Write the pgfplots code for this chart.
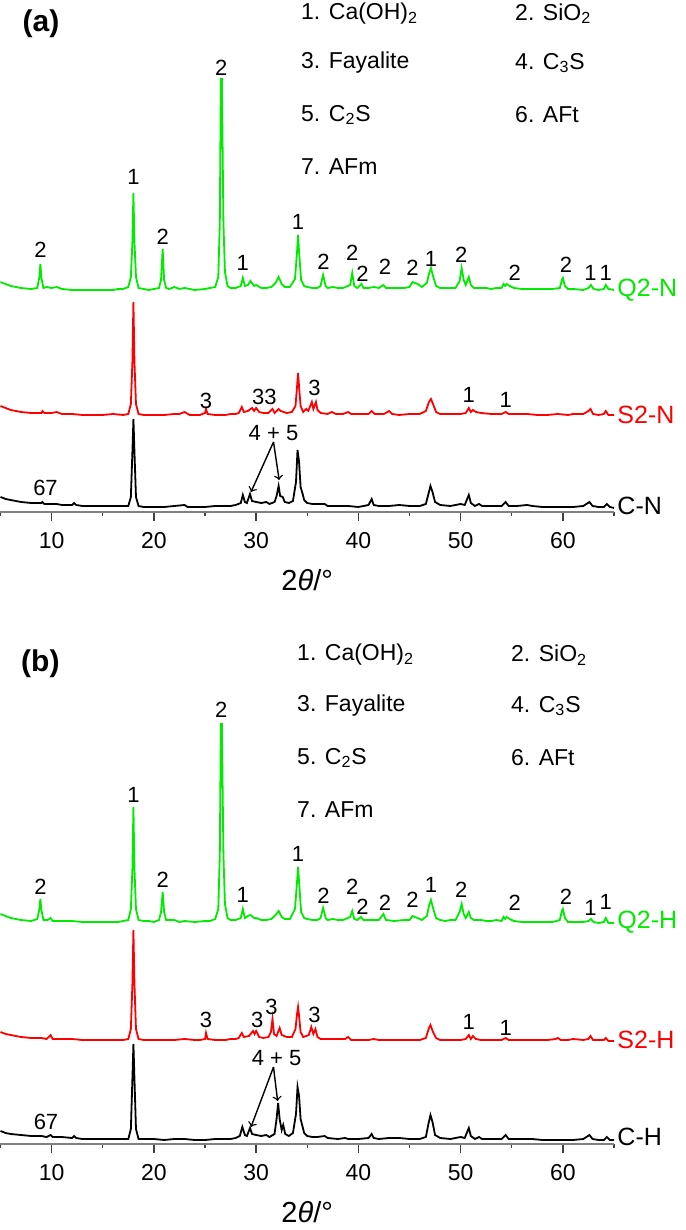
\documentclass[border=0pt]{standalone}
\usepackage{fontspec}
\setmainfont{Liberation Sans}
\usepackage{pgfplots}
\pgfplotsset{compat=1.18}
\definecolor{xg}{RGB}{0,235,0}
\definecolor{xr}{RGB}{255,0,0}
\pgfplotsset{xrd/.style={
 scale only axis, width=306.75pt, height=256pt,
 xmin=5,xmax=65,ymin=0,ymax=512,
 axis x line=bottom, axis y line=none,
 axis line style={-,gray,line width=0.8pt},
 xtick={10,20,...,60}, minor xtick={5,15,...,65},
 tick align=outside, major tick length=4.5pt, minor tick length=2pt,
 every tick/.style={black!75,line width=0.7pt},
 xticklabel style={font=\fontsize{11.5}{13}\selectfont, yshift=-2pt},
 /pgf/number format/assume math mode=true,
 clip=false,
 every axis plot/.append style={line width=0.9pt, mark=none},
 anchor=south west,
}}
\tikzset{pk/.style={font=\fontsize{11}{12}\selectfont, inner sep=0pt},
 lg/.style={font=\fontsize{11.5}{13}\selectfont, inner sep=0pt, anchor=west},
 sl/.style={font=\fontsize{12.5}{14}\selectfont, inner sep=0pt, anchor=west},
}
\begin{document}
\begin{tikzpicture}
\useasboundingbox (0,0) rectangle (342.5pt,615pt);
% ---------------- panel (a)
\begin{axis}[xrd, at={(0.25pt,359pt)}]
\addplot[color=xg] coordinates {(5,230)(5.5,228)(6,226)(7,224)(8,223)(8.6,224)(8.8,235)(8.9,248)(9.0,234)(9.2,224)(9.5,225)(10,224)(10.5,225)(11,223)(12,222)(13,222)(14,222)(15,222)(16,222)(16.5,223)(17,223)(17.5,225)(17.75,235)(17.9,270)(18.0,319)(18.1,270)(18.25,235)(18.5,224)(19,223)(19.5,222)(20,223)(20.5,224)(20.7,232)(20.86,263)(21.0,232)(21.2,224)(21.5,223)(22,225)(22.5,223)(23,224)(24,222)(25,223)(25.5,224)(26,225)(26.3,235)(26.45,290)(26.55,433)(26.65,433)(26.8,290)(26.95,240)(27.2,226)(27.5,224)(28,224)(28.5,226)(28.7,234)(28.9,226)(29.2,227)(29.45,231)(29.8,226)(30,227)(30.5,224)(31,224)(31.5,225)(31.9,229)(32.2,235)(32.5,228)(32.8,225)(33.3,225)(33.8,233)(34.0,260)(34.1,277)(34.2,260)(34.4,232)(34.7,226)(35,225)(35.5,224)(36,224)(36.3,226)(36.55,237)(36.8,226)(37,224)(37.5,225)(38,224)(38.5,224)(39.2,227)(39.4,239)(39.6,226)(39.9,224)(40.3,228)(40.5,224)(41,224)(41.5,225)(42,224)(42.45,227)(42.7,224)(43.5,224)(44.5,224)(45,225)(45.3,230)(45.5,229)(45.8,228)(46.2,225)(46.7,229)(46.9,238)(47.1,244)(47.3,236)(47.6,226)(48,224)(48.5,224)(49,224)(49.5,224)(49.9,231)(50.1,244)(50.3,232)(50.5,227)(50.8,235)(51.0,227)(51.3,224)(52,224)(52.5,224)(53,223)(53.5,224)(54,224)(54.2,228)(54.35,226)(54.5,228)(54.8,226)(55.2,224)(56,223)(57,223)(58,223)(59,223)(59.7,224)(59.9,232)(60.0,234)(60.2,226)(60.5,223)(61,223)(62,222)(62.5,224)(62.75,227)(63,223)(63.5,222)(64,223)(64.2,227)(64.45,223)(65,222)};
\addplot[color=xr] coordinates {(5,106)(5.5,104)(6,102)(7,100)(8,99)(9,99)(9.1,101)(9.3,99)(10,99)(10.5,100)(11,98)(12,98)(13,97)(14,97)(15,97)(16,98)(17,97)(17.5,98)(17.75,108)(17.9,150)(18.0,210)(18.1,150)(18.25,108)(18.5,98)(19,97)(20,97)(21,97)(22,98)(22.5,98)(23,100)(23.5,97)(24,97)(24.5,97)(25.0,99)(25.1,103)(25.25,98)(26,97)(27,97)(27.5,98)(28,98)(28.3,99)(28.6,105)(28.8,100)(29.2,101)(29.6,104)(29.8,101)(30.0,104)(30.3,100)(30.7,99)(31.2,99)(31.6,103)(31.8,99)(32.2,103)(32.4,101)(33,99)(33.5,100)(33.85,106)(34.0,125)(34.1,139)(34.2,125)(34.35,106)(34.6,100)(34.9,103)(35.1,101)(35.45,110)(35.6,103)(35.85,110)(36.0,102)(36.3,99)(37,98)(37.4,100)(37.8,98)(38.5,98)(39.0,100)(39.3,98)(40,98)(41,98)(41.3,101)(41.6,98)(42.5,98)(43,101)(43.3,98)(44,97)(45,98)(45.5,98)(46,98)(46.6,101)(46.9,110)(47.1,113)(47.3,108)(47.6,100)(48,98)(49,98)(50,98)(50.5,99)(50.8,104)(51.0,100)(51.2,102)(51.5,100)(52,99)(53,98)(54,98)(54.4,100)(54.7,98)(55.5,98)(56.5,98)(57.5,97)(58.5,97)(59.5,98)(60.5,97)(61,98)(62,98)(62.5,101)(62.7,103)(62.95,98)(63.5,97)(64,98)(64.2,101)(64.45,97)(65,97)};
\addplot[color=black] coordinates {(5,15)(5.5,13)(6,12)(7,10)(8,9)(9,9)(9.1,10)(9.3,8)(10,8)(10.5,8)(11,7)(12,7)(12.2,9)(12.4,7)(13,6)(14,6)(15,6)(16,6)(16.5,6)(17,6)(17.5,6)(17.75,15)(17.9,60)(18.0,93)(18.1,60)(18.25,15)(18.5,6)(19,5)(20,5)(21,5)(22,6)(23,7)(23.3,5)(24,5)(25,5)(26,6)(27,6)(27.5,6)(28,7)(28.5,9)(28.7,17)(28.9,10)(29.1,9)(29.4,18)(29.6,11)(30,10)(30.5,9)(31,10)(31.3,8)(31.8,10)(32.0,16)(32.2,26)(32.35,16)(32.6,15)(32.8,10)(33.2,9)(33.6,11)(33.9,30)(34.05,62)(34.2,50)(34.35,25)(34.55,18)(34.7,12)(35,9)(35.5,8)(36,8)(36.7,8)(37,6)(38,6)(39,6)(40,5)(41,7)(41.3,13)(41.5,7)(42,6)(43,6)(44,7)(45,6)(46,6)(46.6,8)(46.85,18)(47.05,26)(47.25,20)(47.5,10)(48,7)(49,6)(50,8)(50.4,7)(50.8,17)(51.0,9)(51.4,6)(51.8,8)(52.1,6)(53,6)(54,6)(54.4,10)(54.7,6)(55.5,6)(56.5,7)(57,6)(58,5)(59,5)(60,5)(61,5)(62,6)(62.6,10)(62.9,6)(63.5,5)(64,5)(64.3,8)(64.6,5)(65,4)};
% labels
\node[font=\bfseries\fontsize{15}{17}\selectfont, inner sep=0pt] at (8.96,488) {(a)};
\node[lg] at (34.37,498.5) {1. Ca(OH)\textsubscript{2}};
\node[lg] at (55.3,498.5) {2. SiO\textsubscript{2}};
\node[lg] at (34.37,449) {3. Fayalite};
\node[lg] at (55.3,449) {4. C\textsubscript{3}S};
\node[lg] at (34.37,397) {5. C\textsubscript{2}S};
\node[lg] at (55.3,397) {6. AFt};
\node[lg] at (34.37,345) {7. AFm};
\node[pk] at (8.9,262) {2};
\node[pk] at (18.0,335) {1};
\node[pk] at (20.86,275) {2};
\node[pk] at (26.6,444) {2};
\node[pk] at (28.7,249) {1};
\node[pk] at (34.1,290) {1};
\node[pk] at (36.6,250) {2};
\node[pk] at (39.4,259) {2};
\node[pk] at (40.4,238) {2};
\node[pk] at (42.6,245) {2};
\node[pk] at (45.3,244) {2};
\node[pk] at (47.1,253) {1};
\node[pk] at (50.05,257) {2};
\node[pk] at (55.3,239) {2};
\node[pk] at (60.3,247) {2};
\node[pk] at (62.7,239) {1};
\node[pk] at (64.2,239) {1};
\node[sl, text=xg] at (65.3,222) {Q2-N};
\node[pk] at (25.1,111) {3};
\node[pk] at (30.8,115) {33};
\node[pk] at (35.7,124) {3};
\node[pk] at (50.8,117) {1};
\node[pk] at (54.4,112) {1};
\node[sl, text=xr] at (65.3,97) {S2-N};
\node[pk] at (9.4,24) {67};
\node[pk] at (31.7,79) {4 + 5};
\draw[->, line width=0.7pt] (31.7,70) -- (29.5,20);
\draw[->, line width=0.7pt] (31.7,70) -- (32.25,32);
\node[sl] at (65.3,6) {C-N};
\node[font=\fontsize{14.5}{16}\selectfont, inner sep=0pt] at (35,-68) {2\textit{θ}/°};
\end{axis}
% ---------------- panel (b)
\begin{axis}[xrd, at={(0.25pt,43pt)}]
\addplot[color=xg] coordinates {(5,230)(5.5,228)(6,226)(7,224)(8,223)(8.6,225)(8.8,235)(8.9,245)(9.0,234)(9.2,224)(9.6,224)(9.9,226)(10.1,223)(11,223)(12,223)(13,222)(14,222)(15,222)(16,222)(16.5,222)(17,223)(17.5,224)(17.75,235)(17.9,275)(18.0,337)(18.1,275)(18.25,235)(18.5,224)(19,223)(19.5,223)(20,222)(20.5,224)(20.7,232)(20.86,252)(21.0,232)(21.2,224)(22,224)(22.5,222)(23,223)(24,222)(25,223)(25.5,223)(26,225)(26.3,235)(26.45,290)(26.55,420)(26.65,420)(26.8,290)(26.95,240)(27.2,226)(27.5,224)(28,224)(28.5,226)(28.7,235)(28.9,226)(29.2,228)(29.45,229)(29.8,226)(30,226)(30.5,224)(31,224)(31.5,225)(31.9,229)(32.2,233)(32.5,227)(32.8,225)(33.3,225)(33.8,235)(34.0,262)(34.1,277)(34.2,262)(34.4,232)(34.7,226)(35,225)(35.5,224)(36,224)(36.3,226)(36.55,236)(36.8,226)(37,224)(37.5,225)(38,224)(38.5,224)(39.2,227)(39.4,233)(39.6,225)(39.9,224)(40.25,227)(40.5,224)(41,224)(41.5,224)(42,224)(42.45,230)(42.7,224)(43.5,223)(44.5,224)(45,224)(45.3,228)(45.5,227)(45.8,226)(46.2,224)(46.7,228)(46.9,238)(47.1,244)(47.3,236)(47.6,226)(48,224)(48.5,223)(49,224)(49.5,224)(49.9,232)(50.1,240)(50.3,230)(50.5,226)(50.8,232)(51.0,226)(51.3,224)(52,224)(52.5,223)(53,223)(53.5,224)(54,223)(54.2,227)(54.35,225)(54.5,227)(54.8,225)(55.2,223)(56,222)(57,222)(58,222)(59,222)(59.7,224)(59.9,233)(60.0,235)(60.2,226)(60.5,222)(61,222)(62,222)(62.5,223)(62.75,225)(63,222)(63.5,221)(64,222)(64.2,226)(64.45,221)(65,221)};
\addplot[color=xr] coordinates {(5,112)(5.5,110)(6,109)(7,107)(8,106)(9,106)(9.5,105)(9.9,109)(10.1,105)(11,105)(12,105)(13,104)(14,104)(15,104)(16,104)(17,104)(17.5,105)(17.75,115)(17.9,160)(18.0,214)(18.1,160)(18.25,115)(18.5,105)(19,104)(20,104)(21,104)(22,104)(23,105)(24,104)(24.5,104)(25.0,105)(25.1,111)(25.25,105)(26,104)(27,104)(27.5,105)(28,105)(28.3,106)(28.6,111)(28.8,107)(29.3,108)(29.7,113)(29.85,110)(30.0,113)(30.3,107)(30.7,106)(31.2,107)(31.45,112)(31.6,125)(31.75,110)(32.0,108)(32.3,116)(32.5,109)(33,107)(33.5,107)(33.85,115)(34.0,130)(34.1,137)(34.2,128)(34.35,112)(34.6,107)(34.9,108)(35.15,109)(35.4,117)(35.6,110)(35.8,115)(36.0,107)(36.3,105)(37,105)(38,105)(38.7,105)(39.0,107)(39.3,104)(40,104)(41,104)(41.5,105)(42,104)(43,104)(44,104)(45,104)(46,104)(46.6,106)(46.9,116)(47.05,119)(47.3,112)(47.6,106)(48,104)(49,104)(50,104)(50.5,105)(50.8,109)(51.0,105)(51.2,108)(51.5,105)(52,104)(53,104)(54,104)(54.4,106)(54.7,104)(55.5,104)(56.5,104)(57.5,104)(58.5,104)(59.3,105)(59.5,106)(59.8,104)(60.5,104)(61,105)(62,104)(62.5,105)(62.7,108)(62.95,104)(63.5,104)(64,104)(64.2,106)(64.45,103)(65,103)};
\addplot[color=black] coordinates {(5,13)(5.5,11)(6,10)(7,9)(8,8)(9,8)(9.5,7)(9.9,9)(10.1,7)(11,7)(12,6)(12.2,8)(12.4,6)(13,5)(14,5)(15,5)(16,5)(16.5,5)(17,5)(17.5,5)(17.75,15)(17.9,65)(18.0,100)(18.1,65)(18.25,15)(18.5,5)(19,5)(20,5)(21,4)(22,5)(23,5)(24,4)(25,4)(26,5)(27,5)(27.5,5)(28,6)(28.4,8)(28.65,17)(28.9,9)(29.1,8)(29.4,16)(29.6,10)(30,9)(30.5,8)(31,9)(31.3,7)(31.8,10)(32.0,25)(32.15,41)(32.3,25)(32.5,14)(32.65,19)(32.85,10)(33.2,8)(33.6,11)(33.9,30)(34.05,57)(34.2,48)(34.35,25)(34.55,17)(34.7,11)(35,8)(35.5,7)(36,7)(36.7,8)(37,6)(38,5)(38.7,6)(39,5)(40,5)(41,6)(41.3,10)(41.5,6)(42,5)(43,6)(44,6)(45,5)(46,5)(46.6,7)(46.85,20)(47.05,29)(47.25,22)(47.5,9)(48,6)(49,5)(50,7)(50.4,6)(50.8,16)(51.0,8)(51.4,5)(51.8,7)(52.1,5)(53,5)(54,5)(54.4,9)(54.7,5)(55.5,5)(56.5,5)(57,5)(58,4)(59,4)(60,4)(61,4)(62,5)(62.6,9)(62.9,5)(63.5,4)(64,4)(64.3,7)(64.6,4)(65,4)};
\node[font=\bfseries\fontsize{15}{17}\selectfont, inner sep=0pt] at (8.9,480) {(b)};
\node[lg] at (33.98,489) {1. Ca(OH)\textsubscript{2}};
\node[lg] at (54.9,489) {2. SiO\textsubscript{2}};
\node[lg] at (33.98,438) {3. Fayalite};
\node[lg] at (54.9,438) {4. C\textsubscript{3}S};
\node[lg] at (33.98,386) {5. C\textsubscript{2}S};
\node[lg] at (54.9,386) {6. AFt};
\node[lg] at (33.98,334) {7. AFm};
\node[pk] at (8.9,257) {2};
\node[pk] at (18.0,349) {1};
\node[pk] at (20.86,264) {2};
\node[pk] at (26.6,434) {2};
\node[pk] at (28.7,249) {1};
\node[pk] at (34.1,290) {1};
\node[pk] at (36.6,248) {2};
\node[pk] at (39.4,257) {2};
\node[pk] at (40.4,237) {2};
\node[pk] at (42.6,241) {2};
\node[pk] at (45.3,244) {2};
\node[pk] at (47.1,259) {1};
\node[pk] at (50.05,254) {2};
\node[pk] at (55.3,241) {2};
\node[pk] at (60.3,247) {2};
\node[pk] at (62.7,236) {1};
\node[pk] at (64.2,242) {1};
\node[sl, text=xg] at (65.3,222) {Q2-H};
\node[pk] at (25.1,124) {3};
\node[pk] at (30.1,124) {3};
\node[pk] at (31.5,137) {3};
\node[pk] at (35.7,129) {3};
\node[pk] at (50.8,122) {1};
\node[pk] at (54.4,116) {1};
\node[sl, text=xr] at (65.3,104) {S2-H};
\node[pk] at (9.45,22) {67};
\node[pk] at (32.0,86) {4 + 5};
\draw[->, line width=0.7pt] (31.7,77) -- (29.5,17);
\draw[->, line width=0.7pt] (31.7,77) -- (32.1,43);
\node[sl] at (65.3,7) {C-H};
\node[font=\fontsize{14.5}{16}\selectfont, inner sep=0pt] at (35,-68) {2\textit{θ}/°};
\end{axis}
\end{tikzpicture}
\end{document}
